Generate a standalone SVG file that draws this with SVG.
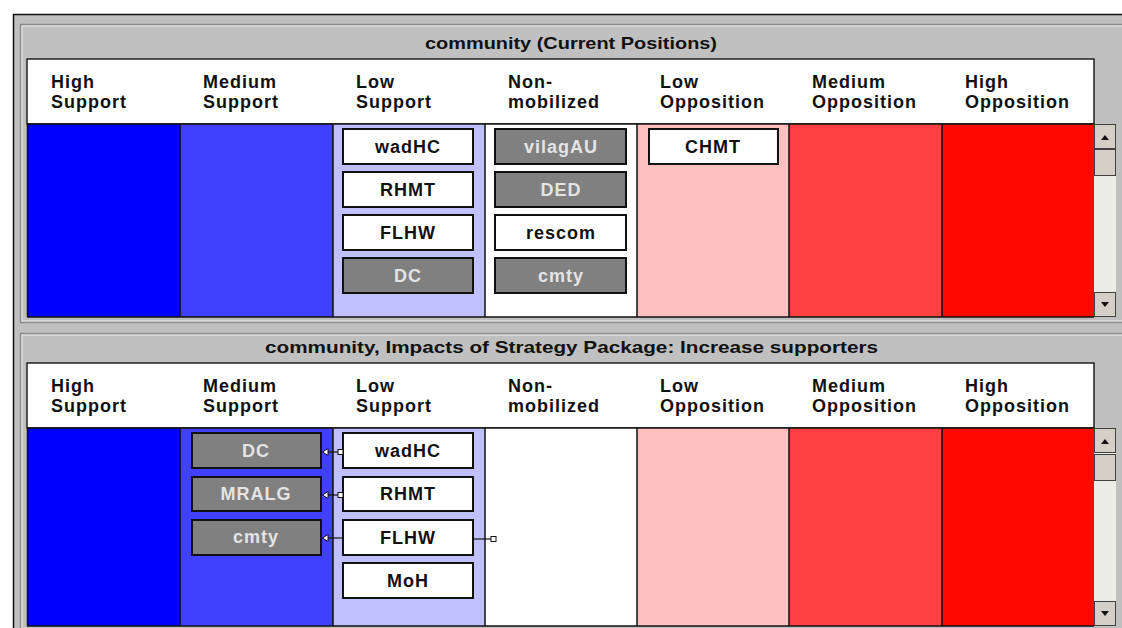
<svg xmlns="http://www.w3.org/2000/svg" width="1122" height="628" viewBox="0 0 1122 628">
<style>
.title{font-family:"Liberation Sans",Arial,sans-serif;font-weight:bold;font-size:17px;fill:#111;}
.hdr{font-family:"Liberation Sans",Arial,sans-serif;font-weight:bold;font-size:18px;fill:#111;letter-spacing:1px;}
.nt{font-family:"Liberation Sans",Arial,sans-serif;font-weight:bold;font-size:18px;letter-spacing:1px;text-anchor:middle;}
.wb{fill:#ffffff;stroke:#111;stroke-width:2;}
.gb{fill:#808080;stroke:#111;stroke-width:2;}
.wt{fill:#111;}
.gt{fill:#e4e4e4;}
.sep{stroke:#111;stroke-width:1.5;}
.btn{fill:#d4d0c8;stroke:#404040;stroke-width:1;}
.trk{fill:#ecece6;}
.con{stroke:#111;stroke-width:1.2;fill:none;}
.sq{fill:#fff;stroke:#111;stroke-width:1;}
.ah{fill:#fff;stroke:#111;stroke-width:1;}
</style>
<rect x="0" y="0" width="1122" height="628" fill="#ffffff"/>
<!-- outer frame -->
<rect x="13.5" y="14.5" width="1120" height="620" fill="#c0c0c0" stroke="#111" stroke-width="1.5"/>

<!-- Panel 1 -->
<g id="panel1">
<rect x="20.5" y="24.5" width="1110" height="298" fill="#c0c0c0" stroke="#8a8a8a" stroke-width="1.5"/>
<rect x="22" y="26" width="1110" height="295" fill="none" stroke="#e8e8e8" stroke-width="1"/>
<text class="title" x="425" y="49" textLength="292" lengthAdjust="spacingAndGlyphs">community (Current Positions)</text>
<rect x="27" y="59" width="1067" height="65" fill="#fff" stroke="#222" stroke-width="1.5"/>
<text class="hdr" x="51" y="88">High</text><text class="hdr" x="51" y="108">Support</text>
<text class="hdr" x="203" y="88">Medium</text><text class="hdr" x="203" y="108">Support</text>
<text class="hdr" x="356" y="88">Low</text><text class="hdr" x="356" y="108">Support</text>
<text class="hdr" x="508" y="88">Non-</text><text class="hdr" x="508" y="108">mobilized</text>
<text class="hdr" x="660" y="88">Low</text><text class="hdr" x="660" y="108">Opposition</text>
<text class="hdr" x="812" y="88">Medium</text><text class="hdr" x="812" y="108">Opposition</text>
<text class="hdr" x="965" y="88">High</text><text class="hdr" x="965" y="108">Opposition</text>
<rect x="27" y="124" width="153" height="193" fill="#0000ff"/>
<rect x="180" y="124" width="153" height="193" fill="#4040ff"/>
<rect x="333" y="124" width="152" height="193" fill="#c0c0ff"/>
<rect x="485" y="124" width="152" height="193" fill="#ffffff"/>
<rect x="637" y="124" width="152" height="193" fill="#ffc0c0"/>
<rect x="789" y="124" width="153" height="193" fill="#ff4040"/>
<rect x="942" y="124" width="152" height="193" fill="#ff0800"/>
<line class="sep" x1="27" y1="124" x2="1094" y2="124"/>
<line class="sep" x1="27" y1="317" x2="1094" y2="317"/>
<line class="sep" x1="27.5" y1="124" x2="27.5" y2="317"/>
<line class="sep" x1="180" y1="124" x2="180" y2="317"/>
<line class="sep" x1="333" y1="124" x2="333" y2="317"/>
<line class="sep" x1="485" y1="124" x2="485" y2="317"/>
<line class="sep" x1="637" y1="124" x2="637" y2="317"/>
<line class="sep" x1="789" y1="124" x2="789" y2="317"/>
<line class="sep" x1="942" y1="124" x2="942" y2="317"/>
<!-- scrollbar -->
<rect class="trk" x="1094" y="124" width="22" height="193"/>
<rect class="btn" x="1094.5" y="124.5" width="21" height="24"/>
<path d="M1101 140 L1105 135 L1109 140 Z" fill="#111"/>
<rect class="btn" x="1094.5" y="149.5" width="21" height="26"/>
<rect class="btn" x="1094.5" y="292.5" width="21" height="24"/>
<path d="M1101 302 L1105 307 L1109 302 Z" fill="#111"/>
</g>

<g id="p1-wadHC"><rect class="wb" x="343" y="129" width="130" height="35"/><text class="nt wt" x="408" y="153">wadHC</text></g>
<g id="p1-RHMT"><rect class="wb" x="343" y="172" width="130" height="35"/><text class="nt wt" x="408" y="196">RHMT</text></g>
<g id="p1-FLHW"><rect class="wb" x="343" y="215" width="130" height="35"/><text class="nt wt" x="408" y="239">FLHW</text></g>
<g id="p1-DC"><rect class="gb" x="343" y="258" width="130" height="35"/><text class="nt gt" x="408" y="282">DC</text></g>
<g id="p1-vilagAU"><rect class="gb" x="495" y="129" width="131" height="35"/><text class="nt gt" x="561" y="153">vilagAU</text></g>
<g id="p1-DED"><rect class="gb" x="495" y="172" width="131" height="35"/><text class="nt gt" x="561" y="196">DED</text></g>
<g id="p1-rescom"><rect class="wb" x="495" y="215" width="131" height="35"/><text class="nt wt" x="561" y="239">rescom</text></g>
<g id="p1-cmty"><rect class="gb" x="495" y="258" width="131" height="35"/><text class="nt gt" x="561" y="282">cmty</text></g>
<g id="p1-CHMT"><rect class="wb" x="649" y="129" width="129" height="35"/><text class="nt wt" x="713" y="153">CHMT</text></g>

<!-- Panel 2 -->
<g id="panel2">
<rect x="20.5" y="333.5" width="1110" height="300" fill="#c0c0c0" stroke="#8a8a8a" stroke-width="1.5"/>
<rect x="22" y="335" width="1110" height="300" fill="none" stroke="#e8e8e8" stroke-width="1"/>
<text class="title" x="265" y="353" textLength="613" lengthAdjust="spacingAndGlyphs">community, Impacts of Strategy Package: Increase supporters</text>
<rect x="27" y="363" width="1067" height="65" fill="#fff" stroke="#222" stroke-width="1.5"/>
<text class="hdr" x="51" y="392">High</text><text class="hdr" x="51" y="412">Support</text>
<text class="hdr" x="203" y="392">Medium</text><text class="hdr" x="203" y="412">Support</text>
<text class="hdr" x="356" y="392">Low</text><text class="hdr" x="356" y="412">Support</text>
<text class="hdr" x="508" y="392">Non-</text><text class="hdr" x="508" y="412">mobilized</text>
<text class="hdr" x="660" y="392">Low</text><text class="hdr" x="660" y="412">Opposition</text>
<text class="hdr" x="812" y="392">Medium</text><text class="hdr" x="812" y="412">Opposition</text>
<text class="hdr" x="965" y="392">High</text><text class="hdr" x="965" y="412">Opposition</text>
<rect x="27" y="428" width="153" height="198" fill="#0000ff"/>
<rect x="180" y="428" width="153" height="198" fill="#4040ff"/>
<rect x="333" y="428" width="152" height="198" fill="#c0c0ff"/>
<rect x="485" y="428" width="152" height="198" fill="#ffffff"/>
<rect x="637" y="428" width="152" height="198" fill="#ffc0c0"/>
<rect x="789" y="428" width="153" height="198" fill="#ff4040"/>
<rect x="942" y="428" width="152" height="198" fill="#ff0800"/>
<line class="sep" x1="27" y1="428" x2="1094" y2="428"/>
<line class="sep" x1="27" y1="626" x2="1094" y2="626"/>
<line class="sep" x1="27.5" y1="428" x2="27.5" y2="626"/>
<line class="sep" x1="180" y1="428" x2="180" y2="626"/>
<line class="sep" x1="333" y1="428" x2="333" y2="626"/>
<line class="sep" x1="485" y1="428" x2="485" y2="626"/>
<line class="sep" x1="637" y1="428" x2="637" y2="626"/>
<line class="sep" x1="789" y1="428" x2="789" y2="626"/>
<line class="sep" x1="942" y1="428" x2="942" y2="626"/>
<rect class="trk" x="1094" y="428" width="22" height="198"/>
<rect class="btn" x="1094.5" y="428.5" width="21" height="24"/>
<path d="M1101 444 L1105 439 L1109 444 Z" fill="#111"/>
<rect class="btn" x="1094.5" y="454.5" width="21" height="26"/>
<rect class="btn" x="1094.5" y="601.5" width="21" height="24"/>
<path d="M1101 611 L1105 616 L1109 611 Z" fill="#111"/>
</g>

<g id="p2-DC"><rect class="gb" x="192" y="433" width="129" height="35"/><text class="nt gt" x="256" y="457">DC</text></g>
<g id="p2-MRALG"><rect class="gb" x="192" y="477" width="129" height="34"/><text class="nt gt" x="256" y="500">MRALG</text></g>
<g id="p2-cmty"><rect class="gb" x="192" y="520" width="129" height="35"/><text class="nt gt" x="256" y="543">cmty</text></g>
<g id="p2-wadHC"><rect class="wb" x="343" y="433" width="130" height="35"/><text class="nt wt" x="408" y="457">wadHC</text></g>
<g id="p2-RHMT"><rect class="wb" x="343" y="477" width="130" height="34"/><text class="nt wt" x="408" y="500">RHMT</text></g>
<g id="p2-FLHW"><rect class="wb" x="343" y="520" width="130" height="35"/><text class="nt wt" x="408" y="544">FLHW</text></g>
<g id="p2-MoH"><rect class="wb" x="343" y="563" width="130" height="35"/><text class="nt wt" x="408" y="587">MoH</text></g>

<g id="connectors">
<line class="con" x1="327" y1="452" x2="338" y2="452"/>
<rect class="sq" x="338" y="449.5" width="5" height="5"/>
<path class="ah" d="M322.5 452 L328 448.5 L328 455.5 Z"/>
<line class="con" x1="327" y1="495" x2="338" y2="495"/>
<rect class="sq" x="338" y="492.5" width="5" height="5"/>
<path class="ah" d="M322.5 495 L328 491.5 L328 498.5 Z"/>
<line class="con" x1="327" y1="538" x2="343" y2="538"/>
<path class="ah" d="M322.5 538 L328 534.5 L328 541.5 Z"/>
<line class="con" x1="473" y1="539" x2="491" y2="539"/>
<rect class="sq" x="491" y="536.5" width="5" height="5"/>
</g>
</svg>
